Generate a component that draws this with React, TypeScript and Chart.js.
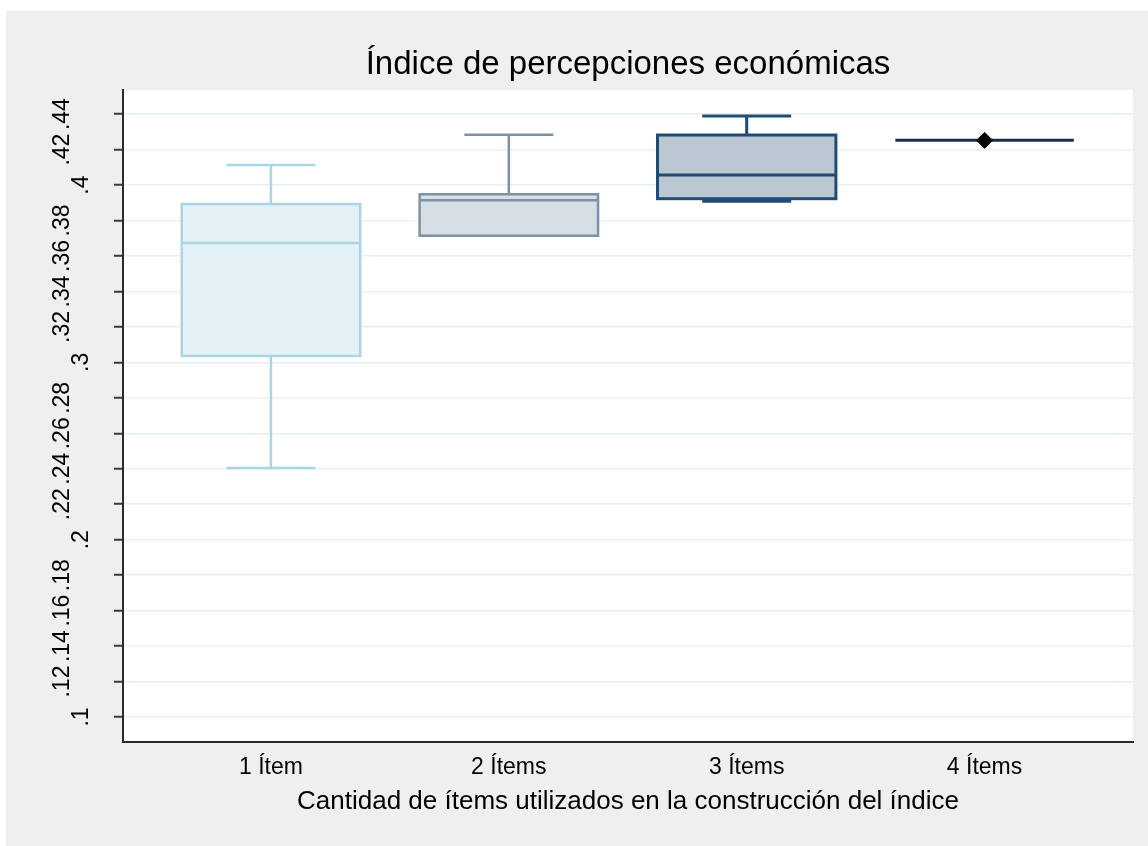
import React, { useEffect, useRef } from "react";
import { Chart, registerables } from "chart.js";

Chart.register(...registerables);

const categories = ["1 Ítem", "2 Ítems", "3 Ítems", "4 Ítems"];
const positions = [1, 2, 3, 4];
const lowerWhisker = [0.2404, 0.3714, 0.3908, 0.4252];
const q1 = [0.3036, 0.3714, 0.3923, 0.4252];
const median = [0.3673, 0.3914, 0.4056, 0.4252];
const q3 = [0.3893, 0.3948, 0.4282, 0.4252];
const upperWhisker = [0.4113, 0.4284, 0.4389, 0.4252];
const singlePointMarker = [{ x: 4, y: 0.4252 }];

const yTickValues = [0.1, 0.12, 0.14, 0.16, 0.18, 0.2, 0.22, 0.24, 0.26, 0.28, 0.3, 0.32, 0.34, 0.36, 0.38, 0.4, 0.42, 0.44];
const yTickLabels = [".1", ".12", ".14", ".16", ".18", ".2", ".22", ".24", ".26", ".28", ".3", ".32", ".34", ".36", ".38", ".4", ".42", ".44"];

const titleText = "Índice de percepciones económicas";
const xTitleText = "Cantidad de ítems utilizados en la construcción del índice";

const boxStroke = ["#a8d6e3", "#7d91a7", "#1f4b77", "#1e2a4c"];
const boxFill = ["#e4f2f8", "#d6dee6", "#bbc8d2", "#bbc8d2"];
const boxLineWidth = [2.5, 2.5, 3, 3];

const FONT = "'Liberation Sans', Arial, Helvetica, sans-serif";

const boxPlugin = {
  id: "boxes",
  beforeDraw(chart: any) {
    const { ctx, chartArea } = chart;
    ctx.save();
    ctx.fillStyle = "#ffffff";
    ctx.fillRect(0, 0, chart.width, chart.height);
    ctx.fillStyle = "#efefef";
    ctx.fillRect(6, 11, chart.width - 6, chart.height - 11);
    ctx.fillStyle = "#ffffff";
    ctx.fillRect(chartArea.left, chartArea.top, chartArea.right - chartArea.left, chartArea.bottom - chartArea.top);
    ctx.restore();
  },
  beforeDatasetsDraw(chart: any) {
    const { ctx } = chart;
    const xs = chart.scales.x;
    const ys = chart.scales.y;
    const boxHalf = 0.375;
    const capHalf = 0.187;
    ctx.save();
    positions.forEach((p, i) => {
      const xl = xs.getPixelForValue(p - boxHalf);
      const xr = xs.getPixelForValue(p + boxHalf);
      const xc = xs.getPixelForValue(p);
      const cl = xs.getPixelForValue(p - capHalf);
      const cr = xs.getPixelForValue(p + capHalf);
      const yq1 = ys.getPixelForValue(q1[i]);
      const yq3 = ys.getPixelForValue(q3[i]);
      const ymed = ys.getPixelForValue(median[i]);
      const ylw = ys.getPixelForValue(lowerWhisker[i]);
      const yuw = ys.getPixelForValue(upperWhisker[i]);
      ctx.strokeStyle = boxStroke[i];
      ctx.lineWidth = boxLineWidth[i];
      ctx.beginPath();
      if (yuw < yq3) {
        ctx.moveTo(xc, yq3);
        ctx.lineTo(xc, yuw);
        ctx.moveTo(cl, yuw);
        ctx.lineTo(cr, yuw);
      }
      if (ylw > yq1) {
        ctx.moveTo(xc, yq1);
        ctx.lineTo(xc, ylw);
        ctx.moveTo(cl, ylw);
        ctx.lineTo(cr, ylw);
      }
      ctx.stroke();
      if (Math.abs(yq1 - yq3) > 0.5) {
        ctx.fillStyle = boxFill[i];
        ctx.fillRect(xl, yq3, xr - xl, yq1 - yq3);
        ctx.strokeRect(xl, yq3, xr - xl, yq1 - yq3);
      }
      ctx.beginPath();
      ctx.moveTo(xl, ymed);
      ctx.lineTo(xr, ymed);
      ctx.stroke();
    });
    ctx.restore();
  },
  afterDraw(chart: any) {
    const { ctx, chartArea } = chart;
    const ys = chart.scales.y;
    ctx.save();
    ctx.fillStyle = "#000000";
    ctx.font = `23px ${FONT}`;
    ctx.textAlign = "center";
    ctx.textBaseline = "alphabetic";
    yTickValues.forEach((v, i) => {
      const y = ys.getPixelForValue(v);
      const major = Math.abs(v * 10 - Math.round(v * 10)) < 1e-6;
      const x = major ? 88 : 69;
      ctx.save();
      ctx.translate(x, y);
      ctx.rotate(-Math.PI / 2);
      ctx.fillText(yTickLabels[i], 0, 0);
      ctx.restore();
    });
    const cx = (chartArea.left + chartArea.right) / 2;
    ctx.textBaseline = "middle";
    ctx.font = `33px ${FONT}`;
    ctx.fillText(titleText, cx, 65);
    ctx.font = `26px ${FONT}`;
    ctx.fillText(xTitleText, cx, 802);
    ctx.restore();
  },
};

export default function App() {
  const ref = useRef<HTMLCanvasElement | null>(null);
  useEffect(() => {
    if (!ref.current) return;
    const chart = new Chart(ref.current, {
      type: "scatter",
      data: {
        datasets: [
          {
            label: "single",
            data: singlePointMarker,
            pointStyle: "rectRot",
            pointRadius: 8,
            backgroundColor: "#000000",
            borderColor: "#000000",
            borderWidth: 1,
          },
        ],
      },
      options: {
        responsive: false,
        animation: false,
        events: [],
        layout: { padding: { top: 90, right: 15, bottom: 0, left: 0 } },
        plugins: { legend: { display: false }, tooltip: { enabled: false }, title: { display: false } },
        scales: {
          x: {
            type: "linear",
            min: 0.378,
            max: 4.624,
            afterBuildTicks: (scale: any) => {
              scale.ticks = positions.map((v) => ({ value: v }));
            },
            afterFit: (scale: any) => {
              scale.height = 104;
            },
            grid: { display: false, drawTicks: false },
            border: { display: true, color: "#2b2b2b", width: 2 },
            ticks: {
              autoSkip: false,
              maxRotation: 0,
              minRotation: 0,
              padding: 12,
              color: "#000000",
              font: { family: FONT, size: 23 },
              callback: (_v: any, i: number) => categories[i],
            },
          },
          y: {
            type: "linear",
            min: 0.0859,
            max: 0.4536,
            afterBuildTicks: (scale: any) => {
              scale.ticks = yTickValues.map((v) => ({ value: v }));
            },
            afterFit: (scale: any) => {
              scale.width = 123;
            },
            grid: {
              display: true,
              color: "#e9f0f3",
              lineWidth: 1.5,
              drawTicks: true,
              tickLength: 9,
              tickColor: "#3a3a3a",
              tickWidth: 2,
            },
            border: { display: true, color: "#2b2b2b", width: 2 },
            ticks: { display: false },
          },
        },
      },
      plugins: [boxPlugin],
    });
    return () => chart.destroy();
  }, []);
  return (
    <div style={{ position: "absolute", left: 0, top: 0, width: 1148, height: 846 }}>
      <canvas ref={ref} width={1148} height={846} style={{ display: "block" }} />
    </div>
  );
}
